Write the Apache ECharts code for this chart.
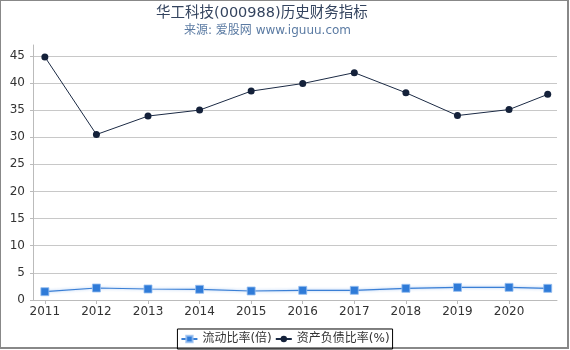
<!DOCTYPE html>
<html><head><meta charset="utf-8">
<script src="https://cdn.jsdelivr.net/npm/echarts@6/dist/echarts.min.js"></script>
<style>
html,body{margin:0;padding:0;background:#fff;}
#frame{position:absolute;left:0;top:0;width:566px;height:346px;border-left:1px solid #888;border-top:1px solid #888;border-right:2px solid #888;border-bottom:2px solid #888;}
#main{position:absolute;left:0;top:0;width:570px;height:350px;}
</style></head>
<body>
<div id="frame"></div>
<div id="main"></div>
<script>
var yearLabels = [2011, 2012, 2013, 2014, 2015, 2016, 2017, 2018, 2019, 2020];
var periods = [2011, 2012, 2013, 2014, 2015, 2016, 2017, 2018, 2019, 2020, 2020.75];
var currentRatio = [1.53, 2.21, 2.03, 1.97, 1.66, 1.78, 1.78, 2.15, 2.33, 2.33, 2.15];
var debtRatio = [44.8, 30.5, 33.9, 35.0, 38.5, 39.9, 41.9, 38.2, 34.0, 35.1, 37.9];
var yTicks = [0, 5, 10, 15, 20, 25, 30, 35, 40, 45];

var font = 'DejaVu Sans, Noto Sans CJK SC, sans-serif';
function pairs(xs, ys){ return xs.map(function(x,i){ return [x, ys[i]]; }); }

var chart = echarts.init(document.getElementById('main'), null, {renderer:'canvas'});
chart.setOption({
  animation: false,
  textStyle: {fontFamily: font},
  title: [{
    text: '华工科技(000988)历史财务指标',
    left: 151, top: 1,
    textStyle: {fontSize: 14.5, fontWeight: 'normal', color: '#34445f', fontFamily: font}
  }, {
    text: '来源: 爱股网 www.iguuu.com',
    left: 179, top: 20,
    textStyle: {fontSize: 12, fontWeight: 'normal', color: '#5b7ba3', fontFamily: font}
  }],
  legend: {
    bottom: 1, left: 'center',
    borderColor: '#000', borderWidth: 1, borderRadius: 0,
    padding: [4, 3, 4, 3], itemGap: 3, itemWidth: 16, itemHeight: 8,
    textStyle: {fontSize: 12, color: '#333', fontFamily: font},
    data: ['流动比率(倍)', '资产负债比率(%)']
  },
  grid: {left: 33, right: 13, top: 45, bottom: 50},
  xAxis: {
    type: 'value', min: 2010.77, max: 2020.93,
    axisLine: {lineStyle: {color: '#bbb'}},
    axisTick: {show: true, length: 4, lineStyle: {color: '#bbb'}, customValues: yearLabels},
    axisLabel: {customValues: yearLabels, color: '#333', fontSize: 12, margin: 6,
      formatter: function(v){ return String(Math.round(v)); }},
    splitLine: {show: false}
  },
  yAxis: {
    type: 'value', min: 0, max: 47,
    axisLine: {show: true, lineStyle: {color: '#bbb'}},
    axisTick: {show: true, length: 3, lineStyle: {color: '#bbb'}, customValues: yTicks},
    axisLabel: {customValues: yTicks, color: '#333', fontSize: 12, margin: 8},
    splitLine: {show: true, lineStyle: {color: '#c8c8c8', width: 1}}
  },
  series: [
    {
      name: '流动比率(倍)', type: 'line',
      data: pairs(periods, currentRatio),
      symbol: 'rect', symbolSize: 8,
      lineStyle: {color: '#3a7fd5', width: 1.2, shadowColor: 'rgba(120,170,235,0.8)', shadowBlur: 3},
      itemStyle: {color: '#2f7bd8', borderColor: 'rgba(150,190,240,0.8)', borderWidth: 1}
    },
    {
      name: '资产负债比率(%)', type: 'line',
      data: pairs(periods, debtRatio),
      symbol: 'circle', symbolSize: 7,
      lineStyle: {color: '#1b2a44', width: 1},
      itemStyle: {color: '#14213a', borderColor: '#14213a', borderWidth: 0}
    }
  ]
});
</script>
</body></html>
